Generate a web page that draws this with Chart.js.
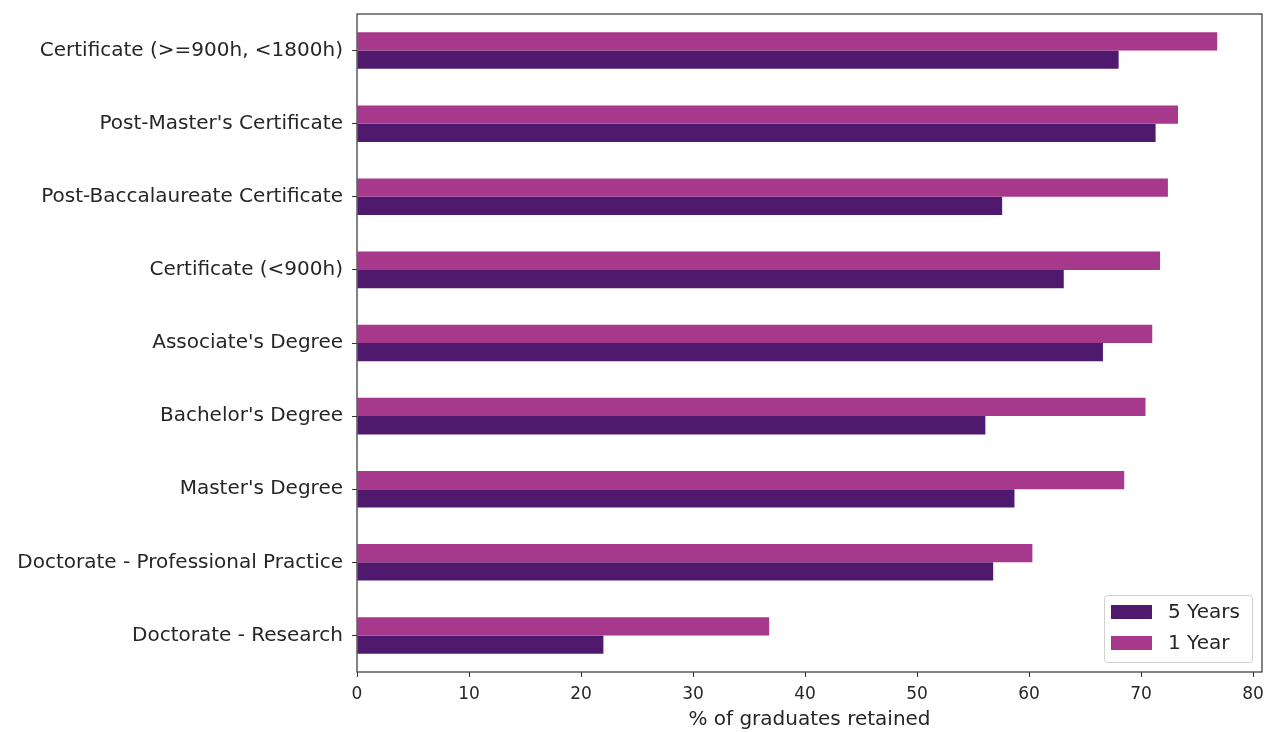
<!DOCTYPE html>
<html>
<head>
<meta charset="utf-8">
<script src="https://cdn.jsdelivr.net/npm/chart.js@4/dist/chart.umd.min.js"></script>
<style>
    body { margin: 0; background: #fff; }
    #wrap { width: 1266px; height: 732px; }
</style>
</head>
<body>
<div id="wrap"><canvas id="retentionChart" width="1266" height="732"></canvas></div>
<script>
const categories = [
    'Certificate (>=900h, <1800h)',
    "Post-Master's Certificate",
    'Post-Baccalaureate Certificate',
    'Certificate (<900h)',
    "Associate's Degree",
    "Bachelor's Degree",
    "Master's Degree",
    'Doctorate - Professional Practice',
    'Doctorate - Research'
];
const fiveYears = [68.0, 71.3, 57.6, 63.1, 66.6, 56.1, 58.7, 56.8, 22.0];
const oneYear = [76.8, 73.3, 72.4, 71.7, 71.0, 70.4, 68.5, 60.3, 36.8];
const xTicks = [0, 10, 20, 30, 40, 50, 60, 70, 80];

const textColor = '#262626';
const fontFamily = '"DejaVu Sans", sans-serif';

// box around the plot + legend inside, bottom right
const frameAndLegend = {
    id: 'frameAndLegend',
    afterDraw(chart) {
        const ctx = chart.ctx;
        const a = chart.chartArea;
        ctx.save();
        ctx.strokeStyle = '#333';
        ctx.lineWidth = 1.2;
        ctx.strokeRect(a.left, a.top, a.right - a.left, a.bottom - a.top);

        const items = [chart.data.datasets[1], chart.data.datasets[0]];
        const bw = 148, bh = 67;
        const bx = a.right - 10 - bw, by = a.bottom - 10 - bh;
        ctx.fillStyle = 'rgba(255,255,255,0.8)';
        ctx.strokeStyle = '#d0d0d0';
        ctx.lineWidth = 1;
        ctx.beginPath();
        ctx.roundRect(bx + 0.5, by + 0.5, bw, bh, 3);
        ctx.fill();
        ctx.stroke();
        ctx.font = '20px ' + fontFamily;
        ctx.textBaseline = 'middle';
        items.forEach((ds, i) => {
            const y = by + 17 + i * 31;
            ctx.fillStyle = ds.backgroundColor;
            ctx.fillRect(bx + 7, y - 7, 41, 14);
            ctx.fillStyle = textColor;
            ctx.fillText(ds.label, bx + 64, y + 1);
        });
        ctx.restore();
    }
};

// keep edge labels from shrinking the plot area
function noEdgePadding(axis) {
    axis.paddingLeft = 0;
    axis.paddingRight = 0;
    axis.paddingTop = 0;
    axis.paddingBottom = 0;
}

const ctx = document.getElementById('retentionChart').getContext('2d');

new Chart(ctx, {
    type: 'bar',
    data: {
        labels: categories,
        datasets: [{
            label: '1 Year',
            data: oneYear,
            backgroundColor: '#a6398b',
            categoryPercentage: 0.5,
            barPercentage: 1.0,
        }, {
            label: '5 Years',
            data: fiveYears,
            backgroundColor: '#4f1a6e',
            categoryPercentage: 0.5,
            barPercentage: 1.0,
        }]
    },
    options: {
        indexAxis: 'y',
        responsive: false,
        animation: false,
        layout: {
            padding: { top: 14, right: 4, left: 0, bottom: 0 }
        },
        plugins: {
            legend: { display: false },
            tooltip: { enabled: false },
        },
        scales: {
            x: {
                min: 0,
                max: 80.8,
                afterBuildTicks: axis => {
                    axis.ticks = xTicks.map(v => ({ value: v }));
                },
                grid: {
                    drawOnChartArea: false,
                    tickLength: 5,
                    tickColor: '#333',
                },
                border: { display: false },
                ticks: {
                    color: textColor,
                    font: { family: fontFamily, size: 17 },
                    padding: 7,
                    maxRotation: 0,
                },
                title: {
                    display: true,
                    text: '% of graduates retained',
                    color: textColor,
                    font: { family: fontFamily, size: 20 },
                    padding: { top: 4, bottom: 0 },
                },
                afterFit: axis => {
                    axis.height = 60;
                    noEdgePadding(axis);
                },
            },
            y: {
                grid: {
                    drawOnChartArea: false,
                    tickLength: 5,
                    tickColor: '#333',
                    offset: false,
                },
                border: { display: false },
                ticks: {
                    color: textColor,
                    font: { family: fontFamily, size: 20 },
                    padding: 9,
                },
                afterFit: axis => {
                    axis.width = 357;
                    noEdgePadding(axis);
                },
            },
        },
    },
    plugins: [frameAndLegend],
});
</script>
</body>
</html>
